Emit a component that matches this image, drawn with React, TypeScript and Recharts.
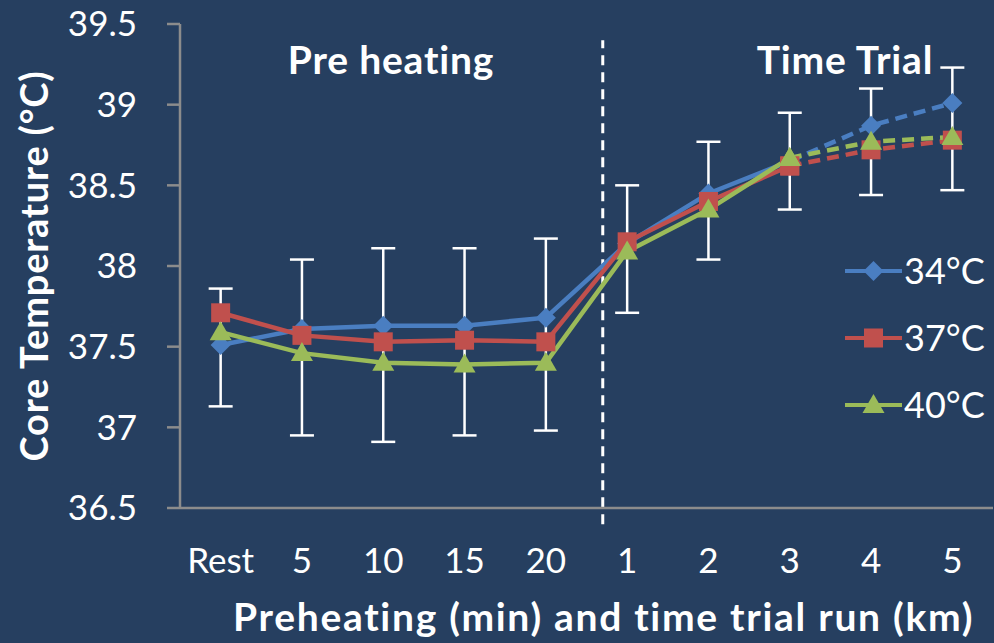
import React from 'react';
import {
  LineChart,
  Line,
  XAxis,
  YAxis,
  ErrorBar,
  ReferenceLine,
  Customized,
} from 'recharts';

// Stages: preheating minutes, then time-trial kilometres
const stageLabels = ['Rest', '5', '10', '15', '20', '1', '2', '3', '4', '5'];

// Mean core temperature (°C) per ambient condition
const core34 = [37.51, 37.61, 37.63, 37.63, 37.68, 38.14, 38.45, 38.65, 38.87, 39.01];
const core37 = [37.71, 37.57, 37.53, 37.54, 37.53, 38.15, 38.40, 38.62, 38.72, 38.78];
const core40 = [37.59, 37.46, 37.40, 37.39, 37.40, 38.09, 38.35, 38.67, 38.77, 38.80];

// Spread of the error whiskers (upper / lower ends)
const errUpper = [37.86, 38.04, 38.11, 38.11, 38.17, 38.50, 38.77, 38.95, 39.10, 39.23];
const errLower = [37.13, 36.95, 36.91, 36.95, 36.98, 37.71, 38.04, 38.35, 38.44, 38.47];

const yTicks = [36.5, 37, 37.5, 38, 38.5, 39, 39.5];

// Last stage drawn with a solid line; later km are dashed
const LAST_SOLID = 7;
// Divider between preheating and time trial (in category units)
const SPLIT_X = 5.2;

const BG = '#263F60';
const AXIS = '#8C8C8C';
const WHITE = '#FFFFFF';

type Shape = 'diamond' | 'square' | 'triangle';

const SERIES: { key: string; name: string; color: string; shape: Shape; values: number[] }[] = [
  { key: 't34', name: '34°C', color: '#4A7EC1', shape: 'diamond', values: core34 },
  { key: 't37', name: '37°C', color: '#C0504D', shape: 'square', values: core37 },
  { key: 't40', name: '40°C', color: '#9BBB59', shape: 'triangle', values: core40 },
];

const data = stageLabels.map((label, i) => {
  const row: Record<string, number | string | null> = {
    pos: i + 0.5,
    label,
    errMid: (errUpper[i] + errLower[i]) / 2,
    errHalf: (errUpper[i] - errLower[i]) / 2,
  };
  SERIES.forEach((s) => {
    row[s.key] = i <= LAST_SOLID ? s.values[i] : null;
    row[s.key + 'Dash'] = i >= LAST_SOLID ? s.values[i] : null;
  });
  return row;
});

const markerPath = (shape: Shape, cx: number, cy: number) => {
  if (shape === 'diamond') {
    const r = 10;
    return `M${cx},${cy - r}L${cx + r},${cy}L${cx},${cy + r}L${cx - r},${cy}Z`;
  }
  if (shape === 'square') {
    const h = 9.5;
    return `M${cx - h},${cy - h}H${cx + h}V${cy + h}H${cx - h}Z`;
  }
  const w = 11;
  return `M${cx},${cy - 11}L${cx + w},${cy + 8}L${cx - w},${cy + 8}Z`;
};

const makeDot = (shape: Shape, color: string, tag: string) => (props: any) => {
  const { cx, cy, index, value } = props;
  if (cx == null || cy == null || value == null) return <g key={`${tag}-${index}`} />;
  return <path key={`${tag}-${index}`} d={markerPath(shape, cx, cy)} fill={color} />;
};

// Series key drawn at the right-hand side of the plot
const SeriesKey = () => (
  <g fontFamily="Lato">
    {SERIES.map((s, k) => {
      const cy = 271 + k * 67;
      return (
        <g key={s.key}>
          <line x1={845} x2={902} y1={cy} y2={cy} stroke={s.color} strokeWidth={4} />
          <path d={markerPath(s.shape, 873.5, cy)} fill={s.color} />
          <text x={904} y={cy} dy="0.36em" fill={WHITE} fontSize={36}>
            {s.name}
          </text>
        </g>
      );
    })}
  </g>
);

const PhaseTitles = () => (
  <g fontFamily="Lato" fontWeight={700} fontSize={39} fill={WHITE}>
    <text x={391} y={74} textAnchor="middle" letterSpacing={0.8}>Pre heating</text>
    <text x={845} y={74} textAnchor="middle" letterSpacing={0.8}>Time Trial</text>
  </g>
);

export default function App() {
  return (
    <div
      style={{
        position: 'absolute',
        left: 0,
        top: 0,
        width: 994,
        height: 643,
        background: BG,
        fontFamily: 'Lato',
        overflow: 'hidden',
      }}
    >
      <LineChart width={994} height={643} data={data} margin={{ top: 24, right: 1, left: 0, bottom: 0 }}>
        <XAxis
          dataKey="pos"
          type="number"
          domain={[0, 10]}
          ticks={[0, 1, 2, 3, 4, 5, 6, 7, 8, 9, 10]}
          tick={false}
          tickSize={13}
          height={14}
          axisLine={{ stroke: AXIS, strokeWidth: 2.5 }}
          tickLine={{ stroke: AXIS, strokeWidth: 2.5 }}
        />
        <XAxis
          xAxisId="lbl"
          dataKey="pos"
          type="number"
          domain={[0, 10]}
          ticks={stageLabels.map((_, i) => i + 0.5)}
          tickFormatter={(v: number) => stageLabels[Math.floor(v)]}
          axisLine={false}
          tickLine={false}
          tickSize={6}
          tickMargin={20}
          height={121}
          tick={{ fill: WHITE, fontSize: 35, fontFamily: 'Lato' }}
          label={{
            value: 'Preheating (min) and time trial run (km)',
            position: 'insideBottom',
            offset: 12,
            dx: 17,
            fill: WHITE,
            fontSize: 39,
            fontWeight: 700,
            fontFamily: 'Lato',
            letterSpacing: 1.7,
          }}
        />
        <YAxis
          type="number"
          domain={[36.5, 39.5]}
          ticks={yTicks}
          width={180}
          tickSize={13}
          tickMargin={30}
          axisLine={{ stroke: AXIS, strokeWidth: 2.5 }}
          tickLine={{ stroke: AXIS, strokeWidth: 2.5 }}
          tick={{ fill: WHITE, fontSize: 35, fontFamily: 'Lato' }}
          label={{
            value: 'Core Temperature (°C)',
            angle: -90,
            position: 'center',
            dx: -55,
            fill: WHITE,
            fontSize: 38,
            fontWeight: 700,
            fontFamily: 'Lato',
            letterSpacing: 0.8,
          }}
        />
        <ReferenceLine
          segment={[
            { x: SPLIT_X, y: 36.4 },
            { x: SPLIT_X, y: 39.4 },
          ]}
          ifOverflow="visible"
          stroke={WHITE}
          strokeWidth={3}
          strokeDasharray="10 7"
        />
        <Line
          dataKey="errMid"
          stroke="none"
          dot={false}
          activeDot={false}
          legendType="none"
          isAnimationActive={false}
        >
          <ErrorBar dataKey="errHalf" direction="y" width={12} stroke={WHITE} strokeWidth={2.5} isAnimationActive={false} />
        </Line>
        {SERIES.flatMap((s) => [
          <Line
            key={s.key}
            dataKey={s.key}
            name={s.name}
            stroke={s.color}
            strokeWidth={4.5}
            dot={makeDot(s.shape, s.color, s.key)}
            activeDot={false}
            connectNulls={false}
            isAnimationActive={false}
          />,
          <Line
            key={s.key + 'Dash'}
            dataKey={s.key + 'Dash'}
            stroke={s.color}
            strokeWidth={4.5}
            strokeDasharray="12 7"
            dot={makeDot(s.shape, s.color, s.key + 'Dash')}
            activeDot={false}
            legendType="none"
            isAnimationActive={false}
          />,
        ])}
        <Customized component={SeriesKey} />
        <Customized component={PhaseTitles} />
      </LineChart>
    </div>
  );
}
